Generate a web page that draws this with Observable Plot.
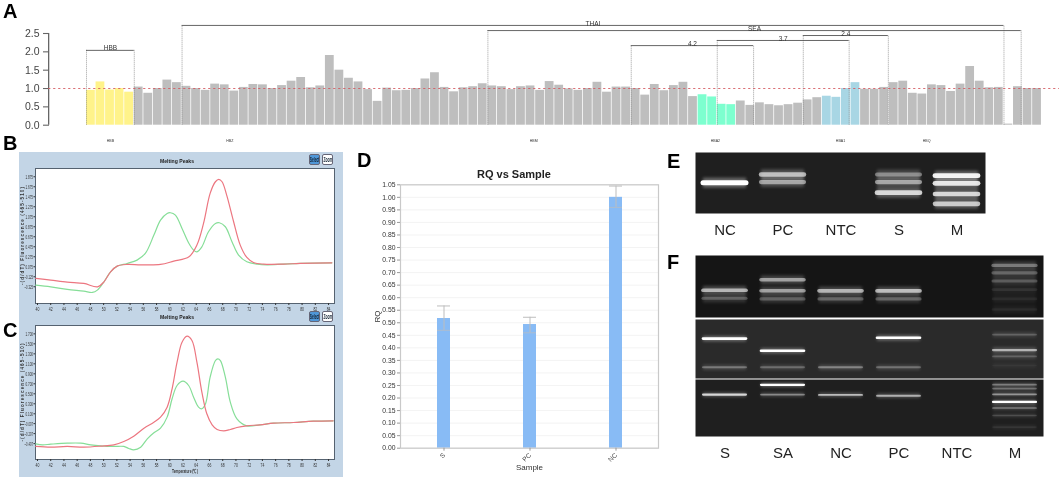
<!DOCTYPE html>
<html><head><meta charset="utf-8">
<script src="https://cdn.jsdelivr.net/npm/d3@7"></script>
<script src="https://cdn.jsdelivr.net/npm/@observablehq/plot@0.6"></script>
<style>
html,body{margin:0;padding:0;background:#fff}
#page{position:relative;width:1059px;height:480px;overflow:hidden;font-family:"Liberation Sans",Arial,sans-serif;filter:blur(0.3px)}
#page svg{position:absolute;background:transparent;overflow:visible}
.abs{position:absolute;white-space:nowrap}
.letter{font-weight:bold;font-size:20px;line-height:20px;color:#000}
.ptitle{font-weight:bold;font-size:6px;color:#222;transform:translateX(-50%) scaleX(.85)}
.btn{box-sizing:border-box;width:11px;height:11px;border-radius:2px;overflow:hidden;border:1px solid #667;display:flex;align-items:center;justify-content:center;font-weight:bold;font-size:6.5px;line-height:7px}
.btn span{display:block;flex:none;transform:scaleX(.5)}
</style></head><body><div id="page"></div>
<script>
// ---------- Panel A: MLPA probe ratios ----------
const probeRatios = [
 .95,1.18,.96,1.0,.9, 1.04,.87,1.0,1.23,1.16, 1.06,1.0,.95,1.12,1.1, .93,1.03,1.11,1.1,1.0,
 1.08,1.2,1.3,1.02,1.07, 1.9,1.5,1.28,1.18,.97, .65,1.01,.94,.95,1.0, 1.26,1.43,1.03,.91,1.02,
 1.05,1.13,1.07,1.05,.97, 1.05,1.07,.95,1.19,1.09, .99,.95,1.0,1.17,.9, 1.04,1.04,1.0,.82,1.11,
 .94,1.08,1.17,.78,.83, .77,.57,.56,.66,.54, .61,.56,.53,.56,.6, .69,.75,.79,.76,1.0,
 1.16,.98,.98,1.03,1.16, 1.2,.87,.85,1.1,1.08, .92,1.12,1.6,1.2,1.02, 1.03,.03,1.05,1.0,1.0];
const highlightNames = ["HBB","HBA2","HBA1","other"];
const highlightColors = ["#FFF38A","#7DFFCF","#A8D6E4","#BEBEBE"];
const highlightStart = [0,64,77];
const highlightEnd = [5,68,81];
const bracketNames = ["HBB","THAI","SEA","2.4","3.7","4.2"];
const bracketFrom = [0,10,42,75,66,57];
const bracketTo = [5,96,97.8,83.9,79.8,69.8];
const bracketLevel = [2.04,2.72,2.58,2.445,2.31,2.17];
const geneNames = ["HBB","HBZ","HBM","HBA2","HBA1","HBQ"];
const geneCenters = [2.5,15,46.8,65.8,78.9,87.9];
const ratioTicks = [0,.5,1,1.5,2,2.5];

// ---------- Panels B, C: melting curves (temperature, -dF/dT) ----------
const tempTicks = d3.range(40,85,2);
const bRedT=[39.75,42,44.5,47,49.1,50.05,51.05,52.05,53.55,55.6,58.6,60.6,62.9,64.1,65.1,66.1,66.9,67.4,67.9,68.6,69.65,70.65,71.65,72.65,74.2,77.2,79.7,84.5];
const bRedV=[-.159,-.193,-.233,-.259,-.326,-.226,-.026,.087,.121,.114,.121,.188,.274,.508,.941,1.542,1.775,1.822,1.775,1.508,.975,.508,.261,.161,.128,.128,.141,.154];
const bGreenT=[39.75,42,44.5,47,48.3,49.05,50.05,51.05,52.05,53.55,55.05,56.3,57.6,58.6,59.6,60.1,60.85,61.85,62.9,63.6,64.1,64.85,65.85,66.9,67.5,68.4,69.4,70.4,71.65,73.2,74.7,77.2,79.7,84.5];
const bGreenV=[-.293,-.326,-.379,-.413,-.439,-.393,-.226,-.026,.087,.141,.208,.341,.708,1.008,1.141,1.155,1.108,.841,.541,.408,.374,.474,.774,.941,.955,.875,.575,.308,.174,.128,.114,.128,.141,.154];
const bTicks=[1.875,1.675,1.475,1.275,1.075,.875,.675,.475,.275,.075,-.125,-.325];
const cRedT=[39.75,42,44.5,47,49.55,51.55,53.05,54.55,56.1,57.6,58.6,59.6,60.35,61.1,61.85,62.6,63.35,64.1,64.85,65.6,66.4,67.15,68.15,69.15,70.15,71.65,73.65,75.7,78.7,81.7,84.7];
const cRedV=[-.554,-.568,-.554,-.568,-.548,-.521,-.454,-.348,-.188,-.068,.033,.233,.6,1.133,1.533,1.653,1.567,1.133,.533,.1,-.121,-.214,-.241,-.214,-.174,-.141,-.121,-.088,-.074,-.048,-.041];
const cGreenT=[39.75,40.75,42,44.5,46.55,48.05,49.55,51.55,53.05,53.8,54.55,55.6,56.6,57.6,58.6,59.6,60.35,61.1,62,62.85,63.6,64.35,64.85,65.4,66.1,66.9,67.25,67.65,68.4,69.15,70.15,71.65,73.65,75.7,78.7,81.7,84.7];
const cGreenV=[-.501,-.521,-.508,-.488,-.488,-.521,-.541,-.554,-.554,-.594,-.621,-.568,-.401,-.281,-.188,.033,.4,.666,.753,.666,.433,.233,.2,.3,.833,1.166,1.2,1.166,.833,.333,-.001,-.141,-.121,-.088,-.074,-.048,-.041];
const cTicks=[1.7,1.5,1.3,1.1,.9,.7,.5,.3,.1,-.097,-.297,-.497];

// ---------- Panel D: RQ ----------
const rqSamples=["S","PC","NC"];
const rqValues=[.517,.493,1.0];
const rqLow=[.47,.46,.96];
const rqHigh=[.567,.522,1.045];
const rqTicks=d3.range(0,22).map(i=>i*.05);

// ---------- Panels E, F: gels (lane, migration fraction, brightness) ----------
const lanesE=["NC","PC","NTC","S","M"];
const lanesF=["S","SA","NC","PC","NTC","M"];
const gelE=[["NC",.495,1],["PC",.36,.75],["PC",.484,.65],["S",.36,.55],["S",.484,.65],["S",.658,.85],["M",.38,.95],["M",.505,.9],["M",.68,.85],["M",.842,.8]];
const gelF1=[["S",.56,.72],["S",.69,.4],["SA",.39,.65],["SA",.57,.65],["SA",.7,.4],["NC",.57,.72],["NC",.7,.42],["PC",.57,.75],["PC",.7,.42],["M",.16,.5],["M",.28,.42],["M",.41,.38],["M",.55,.2],["M",.7,.16],["M",.87,.16]];
const gelF2=[["S",.324,1],["S",.81,.45],["SA",.53,1],["SA",.81,.4],["NC",.81,.5],["PC",.31,1],["PC",.81,.42],["M",.256,.35],["M",.517,.7],["M",.625,.35],["M",.78,.12]];
const gelF3=[["S",.265,.85],["SA",.094,1],["SA",.265,.55],["NC",.27,.75],["PC",.285,.7],["M",.09,.5],["M",.16,.45],["M",.26,.6],["M",.394,1],["M",.5,.5],["M",.63,.3],["M",.835,.2]];

const page=document.getElementById("page");
const place=(svg,l,t)=>{svg.style.left=l+"px";svg.style.top=t+"px";page.appendChild(svg);};
const html=(cls,txt,l,t,extra={})=>{const d=document.createElement("div");d.className="abs "+cls;d.textContent=txt;d.style.left=l+"px";d.style.top=t+"px";Object.assign(d.style,extra);page.appendChild(d);return d;};
const FONT='"Liberation Sans",Arial,sans-serif';

// Panel A
const barRows=probeRatios.map((v,i)=>{
  const g=highlightStart.findIndex((s,k)=>i>=s&&i<highlightEnd[k]);
  return {i,v,group:g<0?"other":highlightNames[g]};
});
const bracketRows=bracketNames.map((n,k)=>({n,a:bracketFrom[k],b:bracketTo[k],y:bracketLevel[k],mid:(bracketFrom[k]+bracketTo[k])/2}));
place(Plot.plot({
  width:1059,height:148,marginLeft:49,marginRight:0,marginTop:0,marginBottom:0,
  style:{fontFamily:FONT},
  x:{domain:[0,100],range:[86,1041.7],axis:null},
  y:{domain:[0,2.5],range:[124.7,33],axis:null},
  color:{domain:highlightNames,range:highlightColors},
  marks:[
    Plot.rect(barRows,{x1:"i",x2:d=>d.i+.92,y1:0,y2:"v",fill:"group"}),
    Plot.ruleX([-3.96],{y1:0,y2:2.5,stroke:"#666",strokeWidth:1.3}),
    Plot.axisY({ticks:ratioTicks,tickSize:6,tickPadding:4,fontSize:10.5,stroke:"#666",strokeWidth:1.1,color:"#444",tickFormat:d3.format(".1f"),label:null}),
    Plot.ruleX(bracketRows.flatMap(d=>[{x:d.a,y:d.y},{x:d.b,y:d.y}]),{x:"x",y1:0,y2:"y",stroke:"#888",strokeDasharray:"1,1",strokeWidth:.8}),
    Plot.ruleY(bracketRows,{y:"y",x1:"a",x2:"b",stroke:"#555",strokeWidth:.9}),
    Plot.text(bracketRows,{x:"mid",y:"y",text:"n",dy:-2,fontSize:6.5,fill:"#333"}),
    Plot.ruleY([1],{x1:-3.96,x2:102.8,stroke:"#D4585E",strokeOpacity:.85,strokeDasharray:"2.2,2.8",strokeWidth:1.1}),
    Plot.text(geneNames,{x:(d,i)=>geneCenters[i],y:-.417,text:d=>d,fontSize:3.6,fill:"#333"})
  ]
}),0,0);

// Panel B, C
const pack=(T,V)=>T.map((t,i)=>({t,v:V[i]}));
const bgPanel=document.createElement("div");
bgPanel.className="abs";
Object.assign(bgPanel.style,{left:"19px",top:"152px",width:"324px",height:"325px",background:"#C3D5E6"});
page.appendChild(bgPanel);
function melt(top,height,mTop,mBottom,yDomain,ticks,red,green,showLabel,tickFmt){
  const svg=Plot.plot({
    width:324,height,marginLeft:16,marginRight:9,marginTop:mTop,marginBottom:mBottom,
    style:{fontFamily:FONT},
    x:{domain:[39.7,84.9],axis:null},
    y:{domain:yDomain,axis:null},
    marks:[
      Plot.frame({fill:"#fff",stroke:"#556270",strokeWidth:1}),
      Plot.axisX({ticks:tempTicks,tickSize:2,tickPadding:1,fontSize:6,color:"#333",label:null,tickFormat:d=>d}),
      Plot.axisY({ticks,tickSize:1.5,tickPadding:1,fontSize:6,color:"#333",label:null,tickFormat:tickFmt}),
      Plot.text(["-(d/dT) Fluorescence (465-510)"],{frameAnchor:"left",rotate:-90,dx:-12.5,textAnchor:"middle",fontSize:4.6,fontWeight:"bold",fill:"#333"}),
      showLabel?Plot.text(["Temperature (℃)"],{frameAnchor:"bottom",dy:13,fontSize:5.6,fontWeight:"bold",fill:"#333"}):null,
      Plot.line(green,{x:"t",y:"v",stroke:"#86DE98",strokeWidth:1.2,curve:"catmull-rom"}),
      Plot.line(red,{x:"t",y:"v",stroke:"#EC7680",strokeWidth:1.2,curve:"catmull-rom"})
    ]
  });
  // the instrument software prints condensed digits: squeeze the real text
  d3.select(svg).selectAll("text").each(function(){
    const s=d3.select(this), t=this.textContent;
    if(t.startsWith("-(d/dT)")) s.attr("textLength",98).attr("lengthAdjust","spacing");
    else if(t.startsWith("Temperature")) s.attr("textLength",26).attr("lengthAdjust","spacingAndGlyphs");
    else if(/^\d\d$/.test(t)) s.attr("textLength",3.8).attr("lengthAdjust","spacingAndGlyphs");
    else if(/\./.test(t)) s.attr("textLength",t.length>5?8.5:7.5).attr("lengthAdjust","spacingAndGlyphs");
  });
  place(svg,19,top);
}
melt(152,165,16,14,[-.66,2.04],bTicks,pack(bRedT,bRedV),pack(bGreenT,bGreenV),false,d3.format(".3f"));
melt(309,168,16,18,[-.815,1.867],cTicks,pack(cRedT,cRedV),pack(cGreenT,cGreenV),true,d3.format(".3f"));
const button=(txt,l,t,bg)=>{const b=html("btn","",l,t,{background:bg,color:"#123"});const s=document.createElement("span");s.textContent=txt;b.appendChild(s);};
[[161,154],[317,311]].forEach(([ty,by])=>{
  html("ptitle","Melting Peaks",177,ty-3);
  button("Select",309,by,"#4F97D8");
  button("Zoom",322,by,"#fff");
});

// Panel D
const rqRows=rqSamples.map((s,i)=>({s,v:rqValues[i],lo:rqLow[i],hi:rqHigh[i]}));
place(Plot.plot({
  width:310,height:330,marginLeft:50,marginRight:2,marginTop:34.3,marginBottom:32.3,
  style:{fontFamily:FONT},
  x:{type:"band",domain:rqSamples,paddingInner:.85,paddingOuter:.425,axis:null},
  y:{domain:[0,1.05],axis:null},
  marks:[
    Plot.gridY(rqTicks,{stroke:"#eeeeee",strokeOpacity:1,strokeWidth:.7}),
    Plot.barY(rqRows,{x:"s",y:"v",fill:"#88BBF5"}),
    Plot.ruleX(rqRows,{x:"s",y1:"lo",y2:"hi",stroke:"#BDBDBD",strokeWidth:1}),
    Plot.tickY(rqRows,{x:"s",y:"hi",stroke:"#BDBDBD",strokeWidth:1}),
    Plot.tickY(rqRows,{x:"s",y:"lo",stroke:"#BDBDBD",strokeOpacity:.7,strokeWidth:1}),
    Plot.frame({stroke:"#C9C9C9",strokeWidth:1.2}),
    Plot.axisY({ticks:rqTicks,tickSize:3,tickPadding:2,fontSize:6.8,color:"#333",stroke:"#999",tickFormat:d3.format(".2f"),label:null}),
    Plot.axisX({tickSize:3,tickPadding:3,fontSize:6.5,tickRotate:-45,color:"#444",stroke:"#999",label:null}),
    Plot.text(["RQ"],{frameAnchor:"left",rotate:-90,dx:-23,textAnchor:"middle",fontSize:8,fill:"#333"}),
    Plot.text(["Sample"],{frameAnchor:"bottom",dy:22,fontSize:8,fill:"#333"})
  ]
}),350,150);
html("","RQ vs Sample",514,168,{transform:"translateX(-50%)",fontWeight:"bold",color:"#222",fontSize:"11px"});

// Panel E, F
function gel(rows,lanes,left,top,w,h,bg,thick,withAxis){
  const data=rows.map(([lane,pos,b])=>({lane,pos,b}));
  const bottom=withAxis?30:0;
  place(Plot.plot({
    width:w,height:h+bottom,marginLeft:0,marginRight:0,marginTop:0,marginBottom:bottom,
    style:{fontFamily:FONT},
    x:{type:"band",domain:lanes,paddingInner:.26,paddingOuter:.13,axis:null},
    y:{domain:[1,0],axis:null},
    marks:[
      Plot.frame({fill:bg}),
      Plot.tickY(data,{x:"lane",y:"pos",stroke:"#fff",strokeOpacity:d=>d.b*.32,strokeWidth:thick*2,imageFilter:"blur(1.5px)"}),
      Plot.tickY(data,{x:"lane",y:"pos",stroke:"#fff",strokeOpacity:d=>Math.pow(d.b,1.6),strokeWidth:d=>thick*(.55+.45*d.b),strokeLinecap:"round",imageFilter:"blur(.6px)"}),
      withAxis?Plot.axisX({tickSize:0,tickPadding:11,fontSize:15,color:"#222",label:null}):null
    ]
  }),left,top);
}
gel(gelE,lanesE,695,152,290,61,"#1f1f1f",5,true);
gel(gelF1,lanesF,695,255,348,62,"#151515",4.2,false);
gel(gelF2,lanesF,695,319,348,59,"#2a2a2a",2.6,false);
gel(gelF3,lanesF,695,379,348,57,"#1f1f1f",2.2,true);

// Panel letters
[["A",3,1],["B",3,133],["C",3,320],["D",357,150],["E",667,151],["F",667,252]].forEach(([t,l,y])=>html("letter",t,l,y));
</script></body></html>
